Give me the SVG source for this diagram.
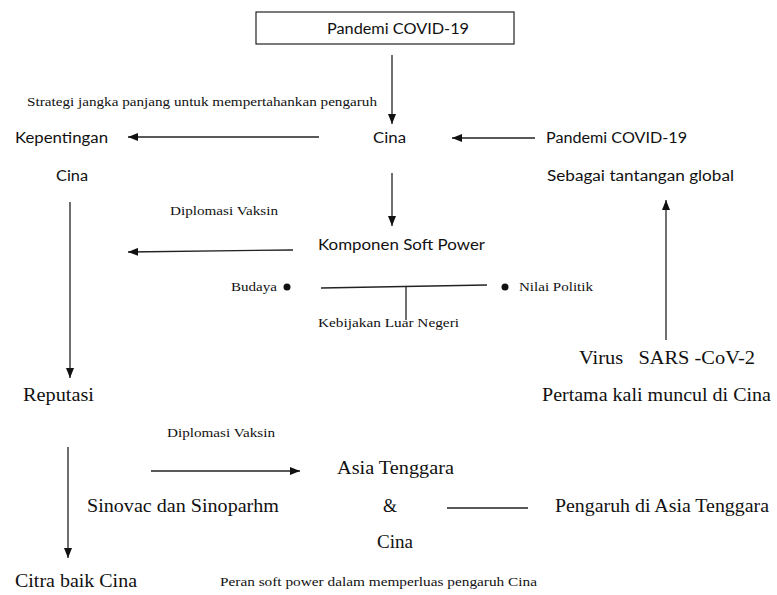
<svg xmlns="http://www.w3.org/2000/svg" width="777" height="595" viewBox="0 0 777 595">
<style>
.s{font-family:Lato,"Open Sans","Liberation Sans",sans-serif;font-size:15.5px;fill:#111}
.r{font-family:"Liberation Serif","Times New Roman",serif;font-size:18px;fill:#111}
.m{font-family:"Liberation Serif","Times New Roman",serif;font-size:12.5px;fill:#111}
.l{stroke:#222;stroke-width:1.3;fill:none}
</style>
<defs>
<marker id="ah" viewBox="0 0 10 8" refX="10" refY="4" markerWidth="10" markerHeight="8" markerUnits="userSpaceOnUse" orient="auto">
<path d="M0,0 L10,4 L0,8 z" fill="#111"/>
</marker>
</defs>
<rect width="777" height="595" fill="#fff"/>
<g id="connectors">
<line class="l" x1="392" y1="55" x2="392" y2="124" marker-end="url(#ah)"/>
<line class="l" x1="319" y1="137" x2="128" y2="137" marker-end="url(#ah)"/>
<line class="l" x1="535" y1="138" x2="452" y2="138" marker-end="url(#ah)"/>
<line class="l" x1="392" y1="173" x2="392" y2="226" marker-end="url(#ah)"/>
<line class="l" x1="70" y1="202" x2="70" y2="378" marker-end="url(#ah)"/>
<line class="l" x1="293" y1="250" x2="128" y2="252" marker-end="url(#ah)"/>
<line class="l" x1="321" y1="288" x2="487" y2="285"/>
<line class="l" x1="406" y1="287" x2="406" y2="320"/>
<line class="l" x1="666" y1="340" x2="666" y2="200" marker-end="url(#ah)"/>
<line class="l" x1="68" y1="447" x2="68" y2="558" marker-end="url(#ah)"/>
<line class="l" x1="151" y1="471" x2="300" y2="471" marker-end="url(#ah)"/>
<line class="l" x1="447" y1="508" x2="528" y2="508"/>
</g>
<g id="pandemi-box">
<rect x="256" y="12" width="258" height="32" fill="#fff" stroke="#222" stroke-width="1.2"/>
<text class="s" x="327" y="34" textLength="142" lengthAdjust="spacingAndGlyphs">Pandemi COVID-19</text>
</g>
<g id="strategi-label"><text class="m" x="27" y="106" textLength="350" lengthAdjust="spacingAndGlyphs">Strategi jangka panjang untuk mempertahankan pengaruh</text></g>
<g id="kepentingan">
<text class="s" x="15" y="143" textLength="93" lengthAdjust="spacingAndGlyphs">Kepentingan</text>
<text class="s" x="56" y="181" textLength="32" lengthAdjust="spacingAndGlyphs">Cina</text>
</g>
<g id="cina"><text class="s" x="373" y="143" textLength="33" lengthAdjust="spacingAndGlyphs">Cina</text></g>
<g id="pandemi-global">
<text class="s" x="546" y="143" textLength="141" lengthAdjust="spacingAndGlyphs">Pandemi COVID-19</text>
<text class="s" x="547" y="181" textLength="187" lengthAdjust="spacingAndGlyphs">Sebagai tantangan global</text>
</g>
<g id="diplomasi-1"><text class="m" x="170" y="215" textLength="108" lengthAdjust="spacingAndGlyphs">Diplomasi Vaksin</text></g>
<g id="komponen"><text class="s" x="318" y="250" textLength="167" lengthAdjust="spacingAndGlyphs">Komponen Soft Power</text></g>
<g id="budaya">
<text class="m" x="231" y="291" textLength="46" lengthAdjust="spacingAndGlyphs">Budaya</text>
<circle cx="287" cy="287" r="3.5" fill="#111"/>
</g>
<g id="nilai-politik">
<circle cx="505" cy="287" r="3.5" fill="#111"/>
<text class="m" x="519" y="291" textLength="74" lengthAdjust="spacingAndGlyphs">Nilai Politik</text>
</g>
<g id="kebijakan"><text class="m" x="318" y="327" textLength="141" lengthAdjust="spacingAndGlyphs">Kebijakan Luar Negeri</text></g>
<g id="virus">
<text class="r" x="579" y="364" textLength="176" lengthAdjust="spacingAndGlyphs" xml:space="preserve">Virus   SARS -CoV-2</text>
<text class="r" x="542" y="401" textLength="229" lengthAdjust="spacingAndGlyphs">Pertama kali muncul di Cina</text>
</g>
<g id="reputasi"><text class="r" x="23" y="401" textLength="71" lengthAdjust="spacingAndGlyphs">Reputasi</text></g>
<g id="diplomasi-2"><text class="m" x="167" y="437" textLength="108" lengthAdjust="spacingAndGlyphs">Diplomasi Vaksin</text></g>
<g id="sinovac"><text class="r" x="87" y="512" textLength="192" lengthAdjust="spacingAndGlyphs">Sinovac dan Sinoparhm</text></g>
<g id="asia-cina">
<text class="r" x="337" y="474" textLength="117" lengthAdjust="spacingAndGlyphs">Asia Tenggara</text>
<text class="r" x="383" y="512">&amp;</text>
<text class="r" x="377" y="548" textLength="36" lengthAdjust="spacingAndGlyphs">Cina</text>
</g>
<g id="pengaruh"><text class="r" x="555" y="512" textLength="214" lengthAdjust="spacingAndGlyphs">Pengaruh di Asia Tenggara</text></g>
<g id="citra"><text class="r" x="15" y="587" textLength="122" lengthAdjust="spacingAndGlyphs">Citra baik Cina</text></g>
<g id="peran"><text class="m" x="220" y="586" textLength="317" lengthAdjust="spacingAndGlyphs">Peran soft power dalam memperluas pengaruh Cina</text></g>
</svg>
